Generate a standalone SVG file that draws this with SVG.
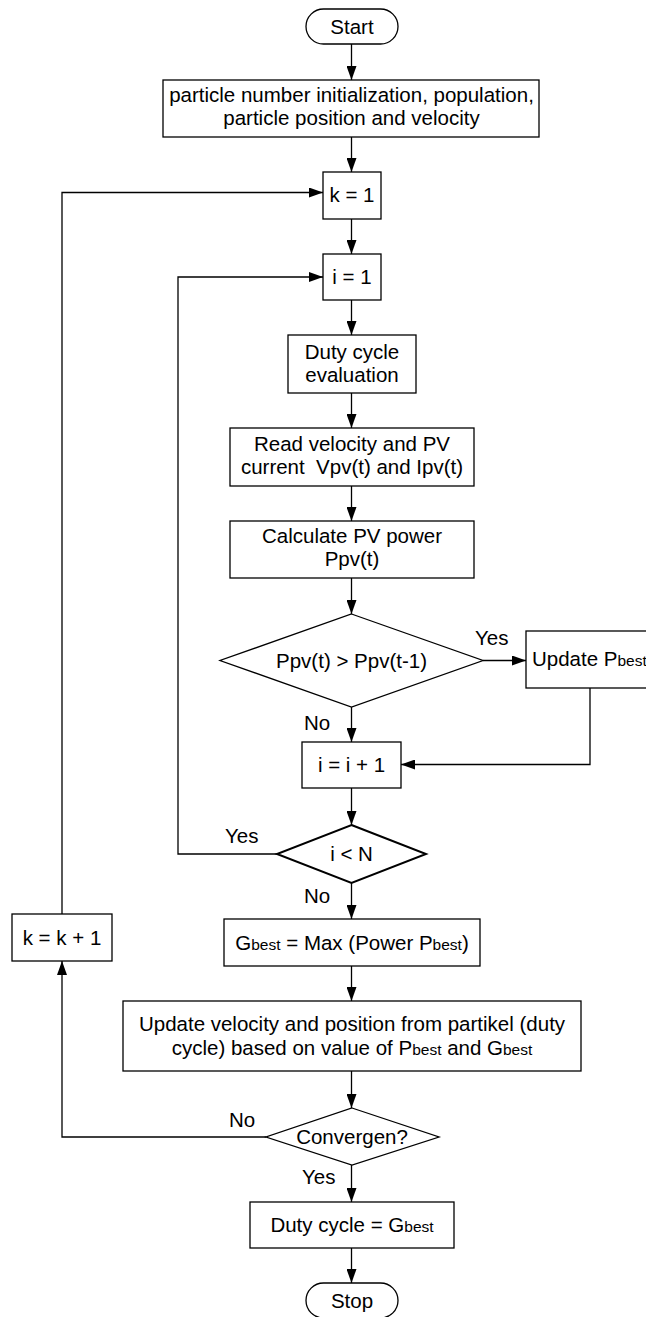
<svg xmlns="http://www.w3.org/2000/svg" width="646" height="1317" viewBox="0 0 646 1317">
<style>
.n{fill:#fff;stroke:#000;stroke-width:1.3}
.b{stroke-width:2}
.t{font-family:"Liberation Sans",Arial,sans-serif;font-size:20.5px;fill:#000;text-anchor:middle}
.s{font-size:15.5px}
.l{text-anchor:start}
.c{fill:none;stroke:#000;stroke-width:1.3}
</style>
<defs>
<marker id="ah" markerUnits="userSpaceOnUse" markerWidth="14" markerHeight="10" refX="14" refY="5" orient="auto">
<path d="M0,0 L14,5 L0,10 z" fill="#000"/>
</marker>
</defs>
<rect width="646" height="1317" fill="#fff"/>
<g id="connectors">
<path class="c" d="M351.5,44 V80" marker-end="url(#ah)"/>
<path class="c" d="M351.5,137 V172" marker-end="url(#ah)"/>
<path class="c" d="M351.5,219 V254" marker-end="url(#ah)"/>
<path class="c" d="M351.5,300 V335" marker-end="url(#ah)"/>
<path class="c" d="M351.5,393 V428" marker-end="url(#ah)"/>
<path class="c" d="M351.5,486 V521" marker-end="url(#ah)"/>
<path class="c" d="M351.5,578 V614" marker-end="url(#ah)"/>
<path class="c" d="M483,660.5 H526" marker-end="url(#ah)"/>
<path class="c" d="M351.5,707 V742" marker-end="url(#ah)"/>
<path class="c" d="M590,688 V764.5 H401" marker-end="url(#ah)"/>
<path class="c" d="M351.5,788 V825" marker-end="url(#ah)"/>
<path class="c" d="M277,854 H178 V277 H323" marker-end="url(#ah)"/>
<path class="c" d="M351.5,883 V919" marker-end="url(#ah)"/>
<path class="c" d="M351.5,966 V1001" marker-end="url(#ah)"/>
<path class="c" d="M351.5,1071 V1108" marker-end="url(#ah)"/>
<path class="c" d="M266,1137 H62 V961" marker-end="url(#ah)"/>
<path class="c" d="M62,914 V192.5 H323" marker-end="url(#ah)"/>
<path class="c" d="M351.5,1165 V1202" marker-end="url(#ah)"/>
<path class="c" d="M351.5,1248 V1283" marker-end="url(#ah)"/>
<text class="t l" x="475" y="645">Yes</text>
<text class="t l" x="304" y="730">No</text>
<text class="t l" x="225" y="843">Yes</text>
<text class="t l" x="304" y="903">No</text>
<text class="t l" x="229" y="1127">No</text>
<text class="t l" x="302" y="1184">Yes</text>
</g>
<g id="start">
<rect class="n" x="306" y="9" width="92" height="35" rx="17.5"/>
<text class="t" x="352" y="34">Start</text>
</g>
<g id="init">
<rect class="n" x="163" y="80" width="376" height="57"/>
<text class="t" x="351.5" y="102">particle number initialization, population,</text>
<text class="t" x="351.5" y="125">particle position and velocity</text>
</g>
<g id="k1">
<rect class="n" x="323" y="172" width="58" height="47"/>
<text class="t" x="352" y="202">k = 1</text>
</g>
<g id="i1">
<rect class="n" x="323" y="254" width="58" height="46"/>
<text class="t" x="352" y="284">i = 1</text>
</g>
<g id="duty">
<rect class="n" x="288" y="335" width="128" height="58"/>
<text class="t" x="352" y="359">Duty cycle</text>
<text class="t" x="352" y="382">evaluation</text>
</g>
<g id="read">
<rect class="n" x="230" y="428" width="244" height="58"/>
<text class="t" x="352" y="451">Read velocity and PV</text>
<text class="t" x="352" y="474" xml:space="preserve">current  Vpv(t) and Ipv(t)</text>
</g>
<g id="calc">
<rect class="n" x="230" y="521" width="244" height="57"/>
<text class="t" x="352" y="543">Calculate PV power</text>
<text class="t" x="352" y="566">Ppv(t)</text>
</g>
<g id="cmp">
<polygon class="n" points="351.5,614 483,660.5 351.5,707 220,660.5"/>
<text class="t" x="351.5" y="667.5">Ppv(t) &gt; Ppv(t-1)</text>
</g>
<g id="updp">
<rect class="n" x="526" y="631" width="130" height="57"/>
<text class="t l" x="532" y="666">Update P<tspan class="s">best</tspan></text>
</g>
<g id="inc">
<rect class="n" x="302" y="742" width="99" height="46"/>
<text class="t" x="351.5" y="772">i = i + 1</text>
</g>
<g id="iN">
<polygon class="n b" points="351.5,825 426,854 351.5,883 277,854"/>
<text class="t" x="351.5" y="861">i &lt; N</text>
</g>
<g id="kinc">
<rect class="n" x="12" y="914" width="100" height="47"/>
<text class="t" x="62" y="944.5">k = k + 1</text>
</g>
<g id="gbest">
<rect class="n" x="224" y="919" width="256" height="47"/>
<text class="t" x="352" y="949.5">G<tspan class="s">best</tspan> = Max (Power P<tspan class="s">best</tspan>)</text>
</g>
<g id="updv">
<rect class="n" x="123" y="1001" width="458" height="70"/>
<text class="t" x="352" y="1031">Update velocity and position from partikel (duty</text>
<text class="t" x="352" y="1055">cycle) based on value of P<tspan class="s">best</tspan> and G<tspan class="s">best</tspan></text>
</g>
<g id="conv">
<polygon class="n" points="352,1108 439,1137 352,1165 266,1137"/>
<text class="t" x="352" y="1144">Convergen?</text>
</g>
<g id="dutyg">
<rect class="n" x="250" y="1202" width="204" height="46"/>
<text class="t" x="352" y="1232">Duty cycle = G<tspan class="s">best</tspan></text>
</g>
<g id="stop">
<rect class="n" x="306" y="1283" width="92" height="35" rx="17.5"/>
<text class="t" x="352" y="1308">Stop</text>
</g>
</svg>
